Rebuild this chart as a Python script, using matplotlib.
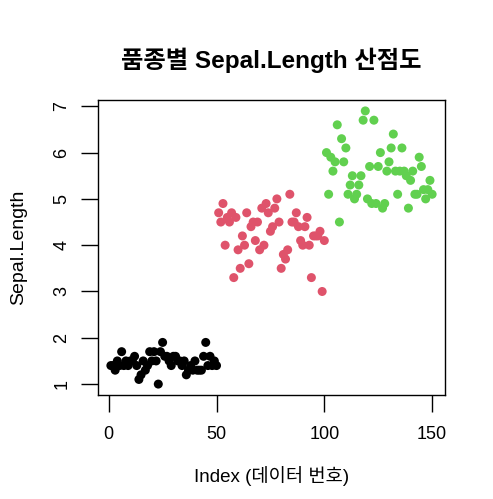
import numpy as np
import matplotlib
matplotlib.use("Agg")
import matplotlib.pyplot as plt

plt.rcParams['font.family'] = ['Liberation Sans', 'Noto Sans CJK KR']

# Petal.Length 값 (iris), 품종별
setosa = [1.4, 1.4, 1.3, 1.5, 1.4, 1.7, 1.4, 1.5, 1.4, 1.5, 1.5, 1.6, 1.4, 1.1, 1.2,
          1.5, 1.3, 1.4, 1.7, 1.5, 1.7, 1.5, 1.0, 1.7, 1.9, 1.6, 1.6, 1.5, 1.4, 1.6,
          1.6, 1.5, 1.5, 1.4, 1.5, 1.2, 1.3, 1.4, 1.3, 1.5, 1.3, 1.3, 1.3, 1.6, 1.9,
          1.4, 1.6, 1.4, 1.5, 1.4]
versicolor = [4.7, 4.5, 4.9, 4.0, 4.6, 4.5, 4.7, 3.3, 4.6, 3.9, 3.5, 4.2, 4.0, 4.7, 3.6,
              4.4, 4.5, 4.1, 4.5, 3.9, 4.8, 4.0, 4.9, 4.7, 4.3, 4.4, 4.8, 5.0, 4.5, 3.5,
              3.8, 3.7, 3.9, 5.1, 4.5, 4.5, 4.7, 4.4, 4.1, 4.0, 4.4, 4.6, 4.0, 3.3, 4.2,
              4.2, 4.2, 4.3, 3.0, 4.1]
virginica = [6.0, 5.1, 5.9, 5.6, 5.8, 6.6, 4.5, 6.3, 5.8, 6.1, 5.1, 5.3, 5.5, 5.0, 5.1,
             5.3, 5.5, 6.7, 6.9, 5.0, 5.7, 4.9, 6.7, 4.9, 5.7, 6.0, 4.8, 4.9, 5.6, 5.8,
             6.1, 6.4, 5.6, 5.1, 5.6, 6.1, 5.6, 5.5, 4.8, 5.4, 5.6, 5.1, 5.1, 5.9, 5.7,
             5.2, 5.0, 5.2, 5.4, 5.1]
colors = ["black", "#DF536B", "#61D04F"]

values = setosa + versicolor + virginica
idx = np.arange(1, len(values) + 1)
col = [colors[0]] * len(setosa) + [colors[1]] * len(versicolor) + [colors[2]] * len(virginica)

fig = plt.figure(figsize=(4.93, 4.99), dpi=100)
ax = fig.add_axes([0.1988, 0.2084, 0.7038, 0.5912])
ax.scatter(idx, values, c=col, s=42, linewidths=0)

pad_x = (idx.max() - idx.min()) * 0.04
pad_y = (max(values) - min(values)) * 0.04
ax.set_xlim(idx.min() - pad_x, idx.max() + pad_x)
ax.set_ylim(min(values) - pad_y, max(values) + pad_y)
ax.set_xticks([0, 50, 100, 150])
ax.set_yticks([1, 2, 3, 4, 5, 6, 7])
ax.tick_params(length=12, width=1, labelsize=13)
ax.tick_params(axis='x', pad=10)
ax.tick_params(axis='y', pad=8)
for lab in ax.get_yticklabels():
    lab.set_rotation(90)
    lab.set_va('center')
for s in ax.spines.values():
    s.set_linewidth(1)

ax.set_xlabel("Index (데이터 번호)", fontsize=13.5, labelpad=17)
ax.set_ylabel("Sepal.Length", fontsize=14, labelpad=19)
ax.set_title("품종별 Sepal.Length 산점도", fontsize=17.5, fontweight='bold', pad=23)

fig.savefig("out.png", dpi=100)
